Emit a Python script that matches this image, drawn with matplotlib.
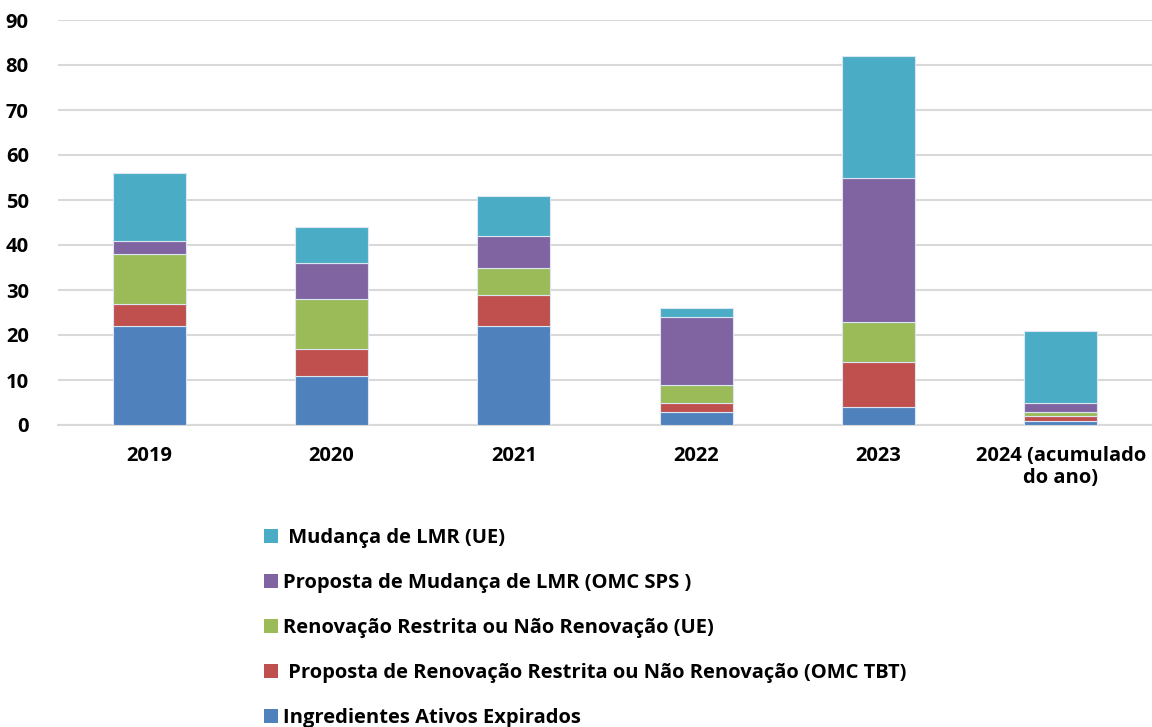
import matplotlib
matplotlib.use("Agg")
import matplotlib.pyplot as plt
from matplotlib.patches import Patch
import numpy as np

plt.rcParams['font.family'] = ['Open Sans', 'DejaVu Sans']
plt.rcParams['font.weight'] = 'bold'

categories = ["2019", "2020", "2021", "2022", "2023", "2024 (acumulado\ndo ano)"]
ingredientes = [22, 11, 22, 3, 4, 1]
prop_renov = [5, 6, 7, 2, 10, 1]
renov_ue = [11, 11, 6, 4, 9, 1]
prop_mud = [3, 8, 7, 15, 32, 2]
mud_ue = [15, 8, 9, 2, 27, 16]

series = [
    ("Ingredientes Ativos Expirados", ingredientes, "#4F81BD"),
    (" Proposta de Renovação Restrita ou Não Renovação (OMC TBT)", prop_renov, "#C0504D"),
    ("Renovação Restrita ou Não Renovação (UE)", renov_ue, "#9BBB59"),
    ("Proposta de Mudança de LMR (OMC SPS )", prop_mud, "#8064A2"),
    (" Mudança de LMR (UE)", mud_ue, "#4BACC6"),
]

fig = plt.figure(figsize=(11.52, 7.27), dpi=100)
ax = fig.add_axes([58/1152, (727-425)/727, (1152-58)/1152, (425-20)/727])

x = np.arange(len(categories))
bottom = np.zeros(len(categories))
handles = []
for label, vals, color in series:
    ax.bar(x, vals, width=0.4, bottom=bottom, color=color, edgecolor="#dce6f2", linewidth=0.8, zorder=3)
    bottom += np.array(vals)
    handles.append((Patch(facecolor=color, edgecolor='none'), label))

ax.set_xlim(-0.5, len(categories) - 0.5)
ax.set_ylim(0, 90)
ax.set_yticks(np.arange(0, 91, 10))
ax.grid(axis='y', color='#d9d9d9', linewidth=1.5, zorder=0)
for s in ['top', 'right', 'left']:
    ax.spines[s].set_visible(False)
ax.spines['bottom'].set_color('#d9d9d9')
ax.spines['bottom'].set_linewidth(1.5)
ax.tick_params(axis='both', length=0, labelsize=14.5)
ax.tick_params(axis='y', pad=21)
ax.tick_params(axis='x', pad=15)
ax.set_xticks(x)
ax.set_xticklabels(categories, fontweight='bold', linespacing=1.15)
for t in ax.get_yticklabels():
    t.set_fontweight('bold')

h = [p for p, _ in reversed(handles)]
l = [lab for _, lab in reversed(handles)]
fig.legend(h, l, loc='upper left', bbox_to_anchor=(264/1152, 1 - 528/727),
           frameon=False, handlelength=0.68, handleheight=0.68,
           handletextpad=0.25, labelspacing=1.24, borderaxespad=0, borderpad=0,
           prop={'weight': 'bold', 'size': 14.5})

fig.savefig("out.png", dpi=100)
